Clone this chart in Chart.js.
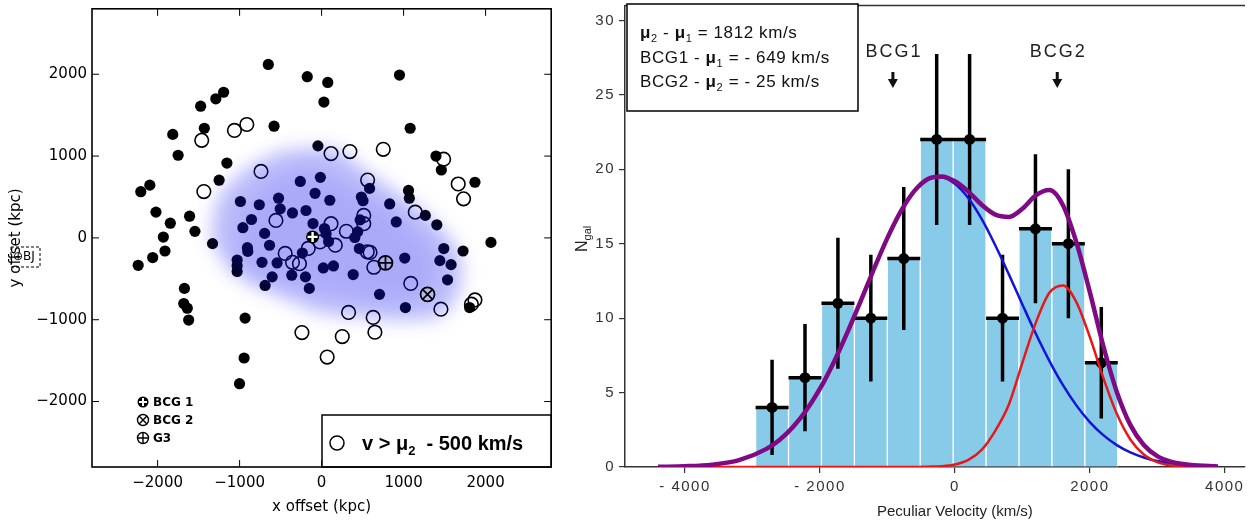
<!DOCTYPE html>
<html lang="en">
<head>
<meta charset="UTF-8">
<title>Galaxy positions and peculiar velocities</title>
<script src="https://cdn.jsdelivr.net/npm/chart.js"></script>
<style>
  body { margin: 0; background: #fff; }
  #wrap { position: relative; width: 1258px; height: 527px; }
  .panel { position: absolute; top: 0; height: 527px; }
  #leftPanel { left: 0; width: 560px; }
  #rightPanel { left: 560px; width: 698px; }
</style>
</head>
<body>
<div id="wrap">
  <div class="panel" id="leftPanel"><canvas id="posChart"></canvas></div>
  <div class="panel" id="rightPanel"><canvas id="velChart"></canvas></div>
</div>

<script>
// ---------- left panel: galaxy positions (kpc) ----------
const posTicks = [-2000, -1000, 0, 1000, 2000];

// all members (filled dots)
const filledX = [-650, -175, 75, 28, 950, -1195, -1290, -1475, -1430, -580, -1815, -1750, -1155, -1250,
  1080, 1395, 1460, 1870, -45, -2205, -2095, -2020, -1845, -1610, -1930, -1545, -1910, -2060, 1060, 1070,
  1265, 1405, 2065, 1490, 1725, 585, 830, 910,
  -990, -760, -525, -505, -855, -960, -695, -355, -190, -260, -15, -80, 100, -105, 35, 85, 55, 485, 505,
  470, 440, 405, 460, -635, -905, -900, -1330,
  -2237, -1673, -1681, -1638, -1621, -933, -945, -1001, 1805,
  -727, -543, -603, -689, -364, -197, -150, -235, 21, 145, 385, 706, 1014, 1022, 1442, 1536, 1579,
  -1030, -1030, -1030];
const filledY = [2120, 1970, 1900, 1660, 1990, 1780, 1700, 1610, 1340, 1365, 1265, 1010, 915, 705,
  1340, 1000, 830, 680, 1125, 565, 645, 315, 180, 265, 10, 80, -160, -240, 580, 485,
  275, 160, -55, -130, -160, 605, 415, 195,
  445, 405, 485, 355, 225, 125, 55, 305, 335, 690, 740, 545, 460, 175, 115, -45, 50, 500, 455,
  220, 75, 5, -130, -90, -120, -165, -70,
  -335, -617, -802, -859, -1004, -980, -1468, -1782, -851,
  -298, -306, -476, -581, -456, -476, -617, -185, -367, -343, -448, -690, -246, -851, -278, -512, -327,
  -270, -340, -410];

// v > mu2 - 500 km/s (open circles)
const openX = [-912, -1063, -1462, -1436, -739, 115, 345, 752, 561, 1142, 1488, 1666, 1731, -557, 115, 302,
  514, 514, 167, -20, -163, -444, 557, 591,
  -355, -270, 637, 1087, 1455, 329, 629, 650, -240, 252, 68, 1827, 1870];
const openY = [1386, 1313, 1192, 566, 812, 1030, 1055, 1083, 707, 315, 962, 659, 477, 214, 174, 81,
  275, 174, -89, -50, -129, -190, -170, -178,
  -298, -315, -359, -556, -871, -911, -972, -1153, -1157, -1206, -1456, -810, -758];

const bcg1Pos = [-110, 12];
const bcg2Pos = [1292, -690];
const g3Pos = [779, -306];

// galaxy density contours (kpc)
const blobOuterX = [-1340, -1320, -1230, -880, -500, -270, 0, 200, 500, 850, 1200, 1500, 1680, 1720, 1660, 1440, 1270, 850, 420, 0, -440, -870, -1120];
const blobOuterY = [-50, 280, 560, 880, 1060, 1090, 1100, 1080, 850, 600, 360, 80, -170, -410, -730, -970, -1000, -1010, -960, -930, -750, -570, -410];
const blobInnerX = [-1000, -950, -600, -200, 200, 600, 1000, 1300, 1400, 1100, 600, 100, -400, -800];
const blobInnerY = [-200, 350, 700, 850, 700, 450, 200, -100, -500, -750, -750, -650, -550, -450];

// ---------- right panel: peculiar velocity histogram ----------
const velTicks = [-4000, -2000, 0, 2000, 4000];
const countTicks = [0, 5, 10, 15, 20, 25, 30];
const binCenters = [-2710, -2222, -1734, -1246, -758, -270, 218, 706, 1194, 1682, 2170];
const binCounts = [4, 6, 11, 10, 14, 22, 22, 10, 16, 15, 7];
const countErr = [3.2, 3.6, 4.4, 4.25, 4.8, 5.75, 5.75, 4.25, 5.0, 5.0, 3.75];
const binHalf = 244;

const fitVel = [-4400, -4000, -3600, -3200, -2800, -2600, -2400, -2200, -2000, -1800, -1600, -1400, -1200, -1000,
  -800, -600, -400, -200, 0, 200, 400, 600, 800, 1000, 1200, 1400, 1600, 1800, 2000, 2200, 2400, 2600,
  2800, 3000, 3200, 3500, 3900];
const fitBlue = [0.01, 0.05, 0.16, 0.46, 1.20, 1.82, 2.69, 3.83, 5.26, 6.99, 8.97, 11.11, 13.30, 15.39,
  17.19, 18.55, 19.33, 19.47, 19.02, 18.05, 16.63, 14.88, 12.94, 10.92, 8.95, 7.13, 5.51, 4.14, 3.02, 2.14, 1.47, 0.98,
  0.64, 0.40, 0.25, 0.11, 0.04];
const fitRed = [0, 0, 0, 0, 0, 0, 0, 0, 0, 0, 0, 0, 0, 0,
  0, 0, 0.02, 0.05, 0.17, 0.48, 1.17, 2.45, 4.2, 7.0, 9.7, 11.7, 12.2, 11.08, 8.73, 5.99, 3.57, 1.85,
  0.84, 0.33, 0.11, 0.02, 0];
const fitTotal = [0.01, 0.05, 0.16, 0.46, 1.20, 1.82, 2.69, 3.83, 5.26, 6.99, 8.97, 11.11, 13.30, 15.39,
  17.19, 18.55, 19.35, 19.52, 19.19, 18.5, 17.6, 16.95, 16.8, 17.35, 18.25, 18.6, 17.6, 15.1, 11.75, 8.13, 5.04, 2.83,
  1.48, 0.73, 0.36, 0.13, 0.04];

const bcgNames = ['BCG1', 'BCG2'];
const bcgVel = [-919, 1517];

const LEFT_FONT = 'DejaVu Sans';
const RIGHT_FONT = 'Liberation Sans';

const pts = (xs, ys) => xs.map((v, i) => ({x: v, y: ys[i]}));
const minusFmt = v => (v < 0 ? '\u2212' + Math.abs(v) : String(v));

// no extra room for edge labels, the frame sizes are fixed
function fixBox(s, size) {
  if (s.isHorizontal()) s.height = size; else s.width = size;
  s.paddingTop = 0; s.paddingBottom = 0; s.paddingLeft = 0; s.paddingRight = 0;
}

function drawRuns(ctx, x, y, runs) {
  runs.forEach(r => {
    ctx.font = r.font;
    ctx.fillText(r.t, x, y + (r.dy || 0));
    x += ctx.measureText(r.t).width;
  });
}

function fillContour(chart, xs, ys, color) {
  const {ctx, chartArea: a, scales: {x, y}} = chart;
  ctx.save();
  ctx.beginPath();
  ctx.rect(a.left, a.top, a.width, a.height);
  ctx.clip();
  ctx.filter = 'blur(9px)';
  ctx.fillStyle = color;
  ctx.beginPath();
  xs.forEach((v, i) => {
    const px = x.getPixelForValue(v), py = y.getPixelForValue(ys[i]);
    if (i) ctx.lineTo(px, py); else ctx.moveTo(px, py);
  });
  ctx.closePath();
  ctx.fill();
  ctx.restore();
}

// density shading goes over the galaxy dots, under the BCG markers
const densityPlugin = {
  id: 'density',
  afterDatasetDraw(chart, args) {
    if (args.index !== 1) return;
    fillContour(chart, blobOuterX, blobOuterY, 'rgba(20,20,240,0.29)');
    fillContour(chart, blobInnerX, blobInnerY, 'rgba(20,20,240,0.1)');
  }
};

const posFrame = {
  id: 'posFrame',
  afterDraw(chart) {
    const {ctx, chartArea: a, scales: {x, y}} = chart;
    ctx.save();
    ctx.strokeStyle = '#000';
    ctx.lineWidth = 1;
    ctx.beginPath();
    x.ticks.forEach(t => {
      const px = x.getPixelForValue(t.value);
      ctx.moveTo(px, a.bottom); ctx.lineTo(px, a.bottom - 7);
      ctx.moveTo(px, a.top); ctx.lineTo(px, a.top + 7);
    });
    y.ticks.forEach(t => {
      const py = y.getPixelForValue(t.value);
      ctx.moveTo(a.left, py); ctx.lineTo(a.left + 7, py);
      ctx.moveTo(a.right, py); ctx.lineTo(a.right - 7, py);
    });
    ctx.stroke();

    // marker key, bottom left
    const kx = 143;
    const keyY = [402, 420, 438];
    ctx.fillStyle = '#000';
    ctx.beginPath(); ctx.arc(kx, keyY[0], 5.5, 0, Math.PI * 2); ctx.fill();
    ctx.strokeStyle = '#fff'; ctx.lineWidth = 2;
    ctx.beginPath();
    ctx.moveTo(kx - 4, keyY[0]); ctx.lineTo(kx + 4, keyY[0]);
    ctx.moveTo(kx, keyY[0] - 4); ctx.lineTo(kx, keyY[0] + 4);
    ctx.stroke();
    ctx.strokeStyle = '#000'; ctx.lineWidth = 1.4;
    [keyY[1], keyY[2]].forEach((ky, i) => {
      ctx.beginPath(); ctx.arc(kx, ky, 5.5, 0, Math.PI * 2); ctx.stroke();
      ctx.beginPath();
      if (i === 0) {
        ctx.moveTo(kx - 3.9, ky - 3.9); ctx.lineTo(kx + 3.9, ky + 3.9);
        ctx.moveTo(kx + 3.9, ky - 3.9); ctx.lineTo(kx - 3.9, ky + 3.9);
      } else {
        ctx.moveTo(kx - 5.5, ky); ctx.lineTo(kx + 5.5, ky);
        ctx.moveTo(kx, ky - 5.5); ctx.lineTo(kx, ky + 5.5);
      }
      ctx.stroke();
    });
    ctx.font = 'bold 12px "' + LEFT_FONT + '"';
    ctx.textBaseline = 'middle';
    ['BCG 1', 'BCG 2', 'G3'].forEach((s, i) => ctx.fillText(s, kx + 10, keyY[i] + 1));

    // velocity-cut legend box, bottom right
    ctx.fillStyle = '#fff';
    ctx.fillRect(322, 415, a.right - 322, a.bottom - 415);
    ctx.lineWidth = 1.5;
    ctx.strokeRect(322, 415, a.right - 322, a.bottom - 415);
    ctx.beginPath(); ctx.arc(337, 443, 7, 0, Math.PI * 2); ctx.stroke();
    ctx.fillStyle = '#000';
    ctx.textBaseline = 'alphabetic';
    drawRuns(ctx, 362, 450, [
      {t: 'v > ', font: 'bold 20px "' + RIGHT_FONT + '"'},
      {t: '\u03bc', font: 'bold 20px "' + RIGHT_FONT + '"'},
      {t: '2', font: 'bold 13px "' + RIGHT_FONT + '"', dy: 5},
      {t: '  - 500 km/s', font: 'bold 20px "' + RIGHT_FONT + '"'}
    ]);

    // frame
    ctx.lineWidth = 1.6;
    ctx.strokeRect(a.left, a.top, a.width, a.height);

    // stray label box on the y title
    ctx.setLineDash([3, 2]);
    ctx.lineWidth = 1;
    ctx.strokeRect(11, 247, 29, 20);
    ctx.setLineDash([]);
    ctx.font = '12px "' + LEFT_FONT + '"';
    ctx.textBaseline = 'middle';
    ctx.fillText('\u2295BJ', 13, 257);
    ctx.restore();
  }
};

new Chart(document.getElementById('posChart'), {
  type: 'scatter',
  data: {
    datasets: [
      {data: pts(filledX, filledY), pointRadius: 5.6, pointBackgroundColor: '#000', pointBorderWidth: 0, order: 5},
      {data: pts(openX, openY), pointRadius: 6.8, pointBackgroundColor: 'rgba(0,0,0,0)', pointBorderColor: '#000', pointBorderWidth: 1.6, order: 4},
      {data: [{x: bcg1Pos[0], y: bcg1Pos[1]}], pointRadius: 6.5, pointBackgroundColor: '#000', pointBorderWidth: 0, order: 3},
      {data: [{x: bcg1Pos[0], y: bcg1Pos[1]}], pointStyle: 'cross', pointRadius: 5, pointBorderColor: '#fff', pointBorderWidth: 2.4, order: 2},
      {data: [{x: bcg2Pos[0], y: bcg2Pos[1]}, {x: g3Pos[0], y: g3Pos[1]}], pointRadius: 7, pointBackgroundColor: 'rgba(0,0,0,0)', pointBorderColor: '#000', pointBorderWidth: 1.8, order: 1},
      {data: [{x: bcg2Pos[0], y: bcg2Pos[1]}], pointStyle: 'crossRot', pointRadius: 7, pointBorderColor: '#000', pointBorderWidth: 1.8, order: 0},
      {data: [{x: g3Pos[0], y: g3Pos[1]}], pointStyle: 'cross', pointRadius: 7, pointBorderColor: '#000', pointBorderWidth: 1.8, order: 0}
    ]
  },
  options: {
    responsive: true,
    maintainAspectRatio: false,
    animation: false,
    layout: {padding: {top: 5, right: 8, bottom: 0, left: 0}},
    plugins: {legend: {display: false}, tooltip: {enabled: false}},
    scales: {
      x: {
        type: 'linear', min: -2800, max: 2800,
        afterBuildTicks: s => { s.ticks = posTicks.map(v => ({value: v})); },
        afterFit: s => fixBox(s, 60),
        grid: {display: false, drawTicks: false}, border: {display: false},
        ticks: {color: '#000', padding: 7, maxRotation: 0, font: {family: LEFT_FONT, size: 15}, callback: minusFmt},
        title: {display: true, text: 'x offset (kpc)', color: '#000', font: {family: LEFT_FONT, size: 15}, padding: {top: 0, bottom: 11}}
      },
      y: {
        type: 'linear', min: -2800, max: 2800,
        afterBuildTicks: s => { s.ticks = posTicks.map(v => ({value: v})); },
        afterFit: s => fixBox(s, 92),
        grid: {display: false, drawTicks: false}, border: {display: false},
        ticks: {color: '#000', padding: 5, font: {family: LEFT_FONT, size: 15}, callback: minusFmt},
        title: {display: true, text: 'y offset (kpc)', color: '#000', font: {family: LEFT_FONT, size: 15}, padding: {top: 7, bottom: 0}}
      }
    }
  },
  plugins: [densityPlugin, posFrame]
});

// ---------- right panel ----------
const vErrData = [];
const hErrData = [];
binCenters.forEach((c, i) => {
  vErrData.push({x: c, y: binCounts[i] - countErr[i]}, {x: c, y: binCounts[i] + countErr[i]}, {x: c, y: null});
  hErrData.push({x: c - binHalf, y: binCounts[i]}, {x: c + binHalf, y: binCounts[i]}, {x: c + binHalf, y: null});
});

const velDecor = {
  id: 'velDecor',
  beforeDraw(chart) { chart.ctx.letterSpacing = '1.5px'; },
  beforeDatasetsDraw(chart) { chart.ctx.letterSpacing = '0px'; },
  afterDraw(chart) {
    const {ctx, chartArea: a, scales: {x}} = chart;
    ctx.save();
    ctx.strokeStyle = '#333';
    ctx.lineWidth = 1.5;
    ctx.beginPath(); ctx.moveTo(a.left, a.top); ctx.lineTo(a.right, a.top); ctx.stroke();

    // BCG markers
    ctx.fillStyle = '#222';
    ctx.textAlign = 'center';
    ctx.textBaseline = 'middle';
    ctx.letterSpacing = '2px';
    ctx.font = '18px "' + RIGHT_FONT + '"';
    bcgNames.forEach((name, i) => {
      const px = x.getPixelForValue(bcgVel[i]);
      ctx.fillText(name, px + 1, 52);
      ctx.lineWidth = 3;
      ctx.strokeStyle = '#111';
      ctx.beginPath(); ctx.moveTo(px, 72); ctx.lineTo(px, 81); ctx.stroke();
      ctx.beginPath(); ctx.moveTo(px - 5, 79); ctx.lineTo(px + 5, 79); ctx.lineTo(px, 88); ctx.closePath();
      ctx.fillStyle = '#111'; ctx.fill(); ctx.fillStyle = '#222';
    });

    // fit summary box
    ctx.fillStyle = '#fff';
    ctx.fillRect(67, 4, 231, 107);
    ctx.strokeStyle = '#000';
    ctx.lineWidth = 1.5;
    ctx.strokeRect(67, 4, 231, 107);
    ctx.fillStyle = '#111';
    ctx.textAlign = 'left';
    ctx.textBaseline = 'alphabetic';
    ctx.letterSpacing = '0.6px';
    const reg = '17px "' + RIGHT_FONT + '"';
    const mu = 'bold 17px "' + RIGHT_FONT + '"';
    const sub = '11px "' + RIGHT_FONT + '"';
    drawRuns(ctx, 80, 38, [{t: '\u03bc', font: mu}, {t: '2', font: sub, dy: 4}, {t: ' - ', font: reg},
      {t: '\u03bc', font: mu}, {t: '1', font: sub, dy: 4}, {t: ' = 1812 km/s', font: reg}]);
    drawRuns(ctx, 80, 63, [{t: 'BCG1 - ', font: reg}, {t: '\u03bc', font: mu}, {t: '1', font: sub, dy: 4},
      {t: ' = - 649 km/s', font: reg}]);
    drawRuns(ctx, 80, 87, [{t: 'BCG2 - ', font: reg}, {t: '\u03bc', font: mu}, {t: '2', font: sub, dy: 4},
      {t: ' = - 25 km/s', font: reg}]);

    // axis titles
    ctx.letterSpacing = '0px';
    ctx.fillStyle = '#222';
    ctx.textAlign = 'center';
    ctx.textBaseline = 'middle';
    ctx.font = '15px "' + RIGHT_FONT + '"';
    ctx.fillText('Peculiar Velocity (km/s)', x.getPixelForValue(0), 512);
    ctx.translate(22, 240);
    ctx.rotate(-Math.PI / 2);
    ctx.textAlign = 'left';
    ctx.textBaseline = 'alphabetic';
    drawRuns(ctx, -12, 5, [{t: 'N', font: '16px "' + RIGHT_FONT + '"'}, {t: 'gal', font: '11px "' + RIGHT_FONT + '"', dy: 4}]);
    ctx.restore();
  }
};

const axisStyle = {
  grid: {display: true, drawOnChartArea: false, drawTicks: true, tickLength: 6, color: '#333', lineWidth: 1.2, offset: false},
  border: {display: true, color: '#333', width: 1.5}
};

new Chart(document.getElementById('velChart'), {
  type: 'bar',
  data: {
    datasets: [
      {type: 'bar', data: pts(binCenters, binCounts), backgroundColor: '#87cbe8', borderColor: '#fff',
        borderWidth: {left: 1, right: 1, top: 0, bottom: 0}, borderSkipped: false, barPercentage: 1, categoryPercentage: 1, order: 10},
      {type: 'line', data: vErrData, borderColor: '#000', borderWidth: 3.5, pointRadius: 0, spanGaps: false, order: 8},
      {type: 'line', data: hErrData, borderColor: '#000', borderWidth: 3.5, pointRadius: 0, spanGaps: false, order: 8},
      {type: 'line', data: pts(binCenters, binCounts), showLine: false, pointRadius: 5.5, pointBackgroundColor: '#000', pointBorderWidth: 0, order: 7},
      {type: 'line', data: pts(fitVel, fitBlue), borderColor: '#1414d8', borderWidth: 2.5, pointRadius: 0, cubicInterpolationMode: 'monotone', order: 5},
      {type: 'line', data: pts(fitVel, fitRed), borderColor: '#e81818', borderWidth: 2.5, pointRadius: 0, cubicInterpolationMode: 'monotone', order: 4},
      {type: 'line', data: pts(fitVel, fitTotal), borderColor: '#800a84', borderWidth: 4.5, pointRadius: 0, cubicInterpolationMode: 'monotone', order: 3}
    ]
  },
  options: {
    responsive: true,
    maintainAspectRatio: false,
    animation: false,
    layout: {padding: {top: 5, right: 13, bottom: 0, left: 0}},
    plugins: {legend: {display: false}, tooltip: {enabled: false}},
    scales: {
      x: {
        type: 'linear', min: -4890, max: 4300, offset: false,
        afterBuildTicks: s => { s.ticks = velTicks.map(v => ({value: v})); },
        afterFit: s => fixBox(s, 60),
        ...axisStyle,
        ticks: {color: '#333', padding: 5, maxRotation: 0, font: {family: RIGHT_FONT, size: 15},
          callback: v => (v < 0 ? '- ' + Math.abs(v) : String(v))}
      },
      y: {
        type: 'linear', min: 0, max: 31,
        afterBuildTicks: s => { s.ticks = countTicks.map(v => ({value: v})); },
        afterFit: s => fixBox(s, 65),
        ...axisStyle,
        ticks: {color: '#333', padding: 4, font: {family: RIGHT_FONT, size: 15}}
      }
    }
  },
  plugins: [velDecor]
});
</script>
</body>
</html>
